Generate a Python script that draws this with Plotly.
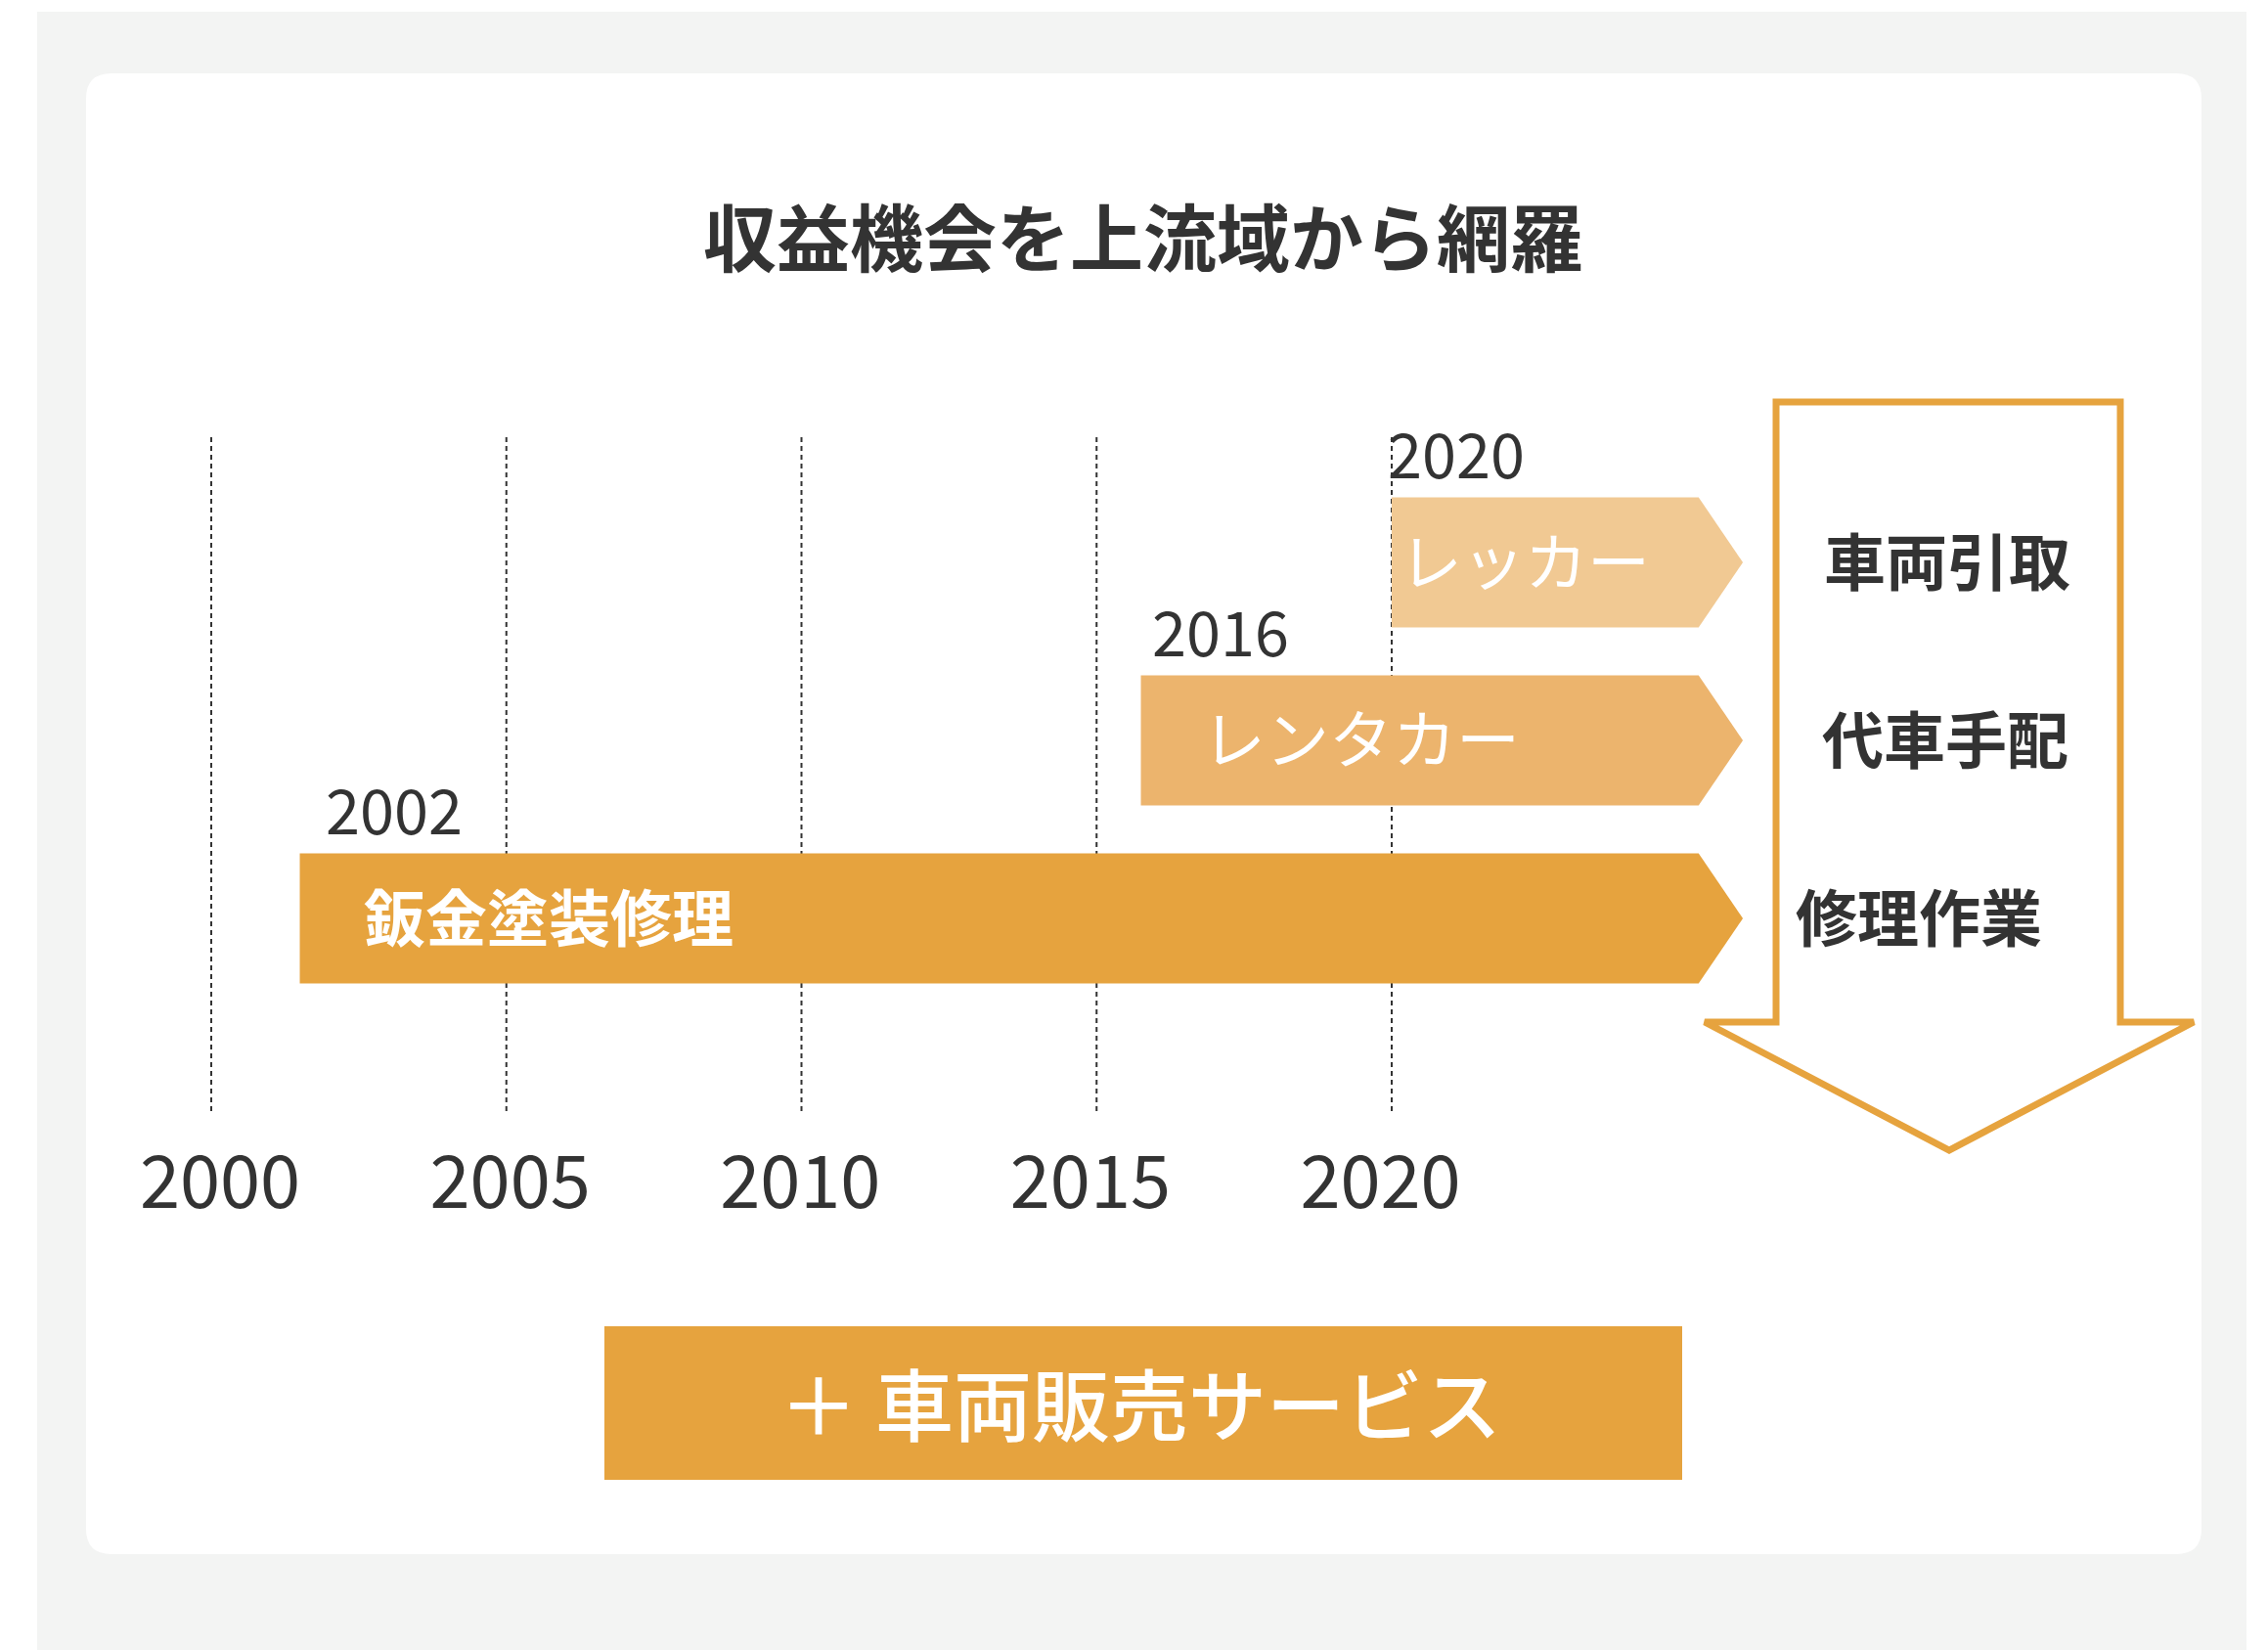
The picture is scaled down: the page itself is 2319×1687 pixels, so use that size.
import plotly.graph_objects as go

W, H = 2319, 1687

# ---------------- data ----------------
title_text = "収益機会を上流域から網羅"
services = ["鈑金塗装修理", "レンタカー", "レッカー"]
launch_years = [2002, 2016, 2020]
bar_start = [2001.5, 2015.75, 2020.0]
bar_end = [2025.2, 2025.2, 2025.2]
bar_tip = [2025.95, 2025.95, 2025.95]
flow_labels = ["修理作業", "代車手配", "車両引取"]
tick_years = [2000, 2005, 2010, 2015, 2020]
tick_labels = ["2000", "2005", "2010", "2015", "2020"]
bottom_text = "＋ 車両販売サービス"

# ---------------- styles ----------------
FONT = "Noto Sans CJK JP, Noto Sans, sans-serif"
DARK = "#333333"
ORANGE = "#E6A33E"
bar_colors = ["#E6A33E", "#ECB46D", "#F1C993"]
label_pad = [1.05, 1.0, 0.1]
label_size = [63, 65, 64]
label_weight = [700, 400, 400]
flow_label_px = [1962, 1989, 1991]

PX_PER_YEAR = 60.35
X2000_PX = 216
x_lo = 2000 - X2000_PX / PX_PER_YEAR
x_hi = x_lo + W / PX_PER_YEAR

ROW_Y = [939, 757, 575]      # vertical centre of each row (px from top)
BAR_HALF = 66.5
GRID_TOP, GRID_BOTTOM = 447, 1139
TICK_Y = 1216
CJK_SHIFT = -5               # text nudge for CJK labels (px)


def px(x):
    return x / W


def py(y):
    return 1 - y / H


fig = go.Figure()

# dashed year guide lines
for yr in tick_years:
    fig.add_trace(go.Scatter(
        x=[yr, yr], y=[GRID_TOP, GRID_BOTTOM], mode="lines",
        line=dict(color=DARK, width=2, dash="5px,4px"),
        hoverinfo="skip", showlegend=False))

# year tick labels (slightly tighter spacing than the guides, as in the original)
fig.add_trace(go.Scatter(
    x=[2000.15 + (y - 2000) * 0.983 for y in tick_years], y=[TICK_Y] * len(tick_years),
    mode="text", text=tick_labels, textposition="middle center",
    textfont=dict(family=FONT, size=74, color=DARK),
    hoverinfo="skip", showlegend=False))

# service arrows (bars with pointed ends)
for i, name in enumerate(services):
    cy = ROW_Y[i]
    top, bot = cy - BAR_HALF, cy + BAR_HALF
    xs = [bar_start[i], bar_end[i], bar_tip[i], bar_end[i], bar_start[i], bar_start[i]]
    ys = [top, top, cy, bot, bot, top]
    fig.add_trace(go.Scatter(
        x=xs, y=ys, mode="lines", fill="toself", fillcolor=bar_colors[i],
        line=dict(width=0, color=bar_colors[i]), hoverinfo="skip", showlegend=False))
    # service label
    fig.add_annotation(
        x=bar_start[i] + label_pad[i], y=cy + CJK_SHIFT, xref="x", yref="y",
        text=name, showarrow=False, xanchor="left", yanchor="middle",
        font=dict(family=FONT, size=label_size[i], color="white", weight=label_weight[i]))
    # launch year label
    fig.add_annotation(
        x=launch_years[i] - 0.1, y=top - 47, xref="x", yref="y",
        text=str(launch_years[i]), showarrow=False, xanchor="left", yanchor="middle",
        font=dict(family=FONT, size=63, color=DARK))
    # flow label in the big arrow
    fig.add_annotation(
        x=px(flow_label_px[i]), y=cy + CJK_SHIFT, xref="paper", yref="y",
        text=flow_labels[i], showarrow=False, xanchor="center", yanchor="middle",
        font=dict(family=FONT, size=63, color=DARK, weight=700))

# title
fig.add_annotation(
    x=px(1169), y=py(240), xref="paper", yref="paper", text=title_text,
    showarrow=False, xanchor="center", yanchor="middle",
    font=dict(family=FONT, size=75, color=DARK, weight=700))

# bottom box text
fig.add_annotation(
    x=px(1166), y=py(1432), xref="paper", yref="paper", text=bottom_text,
    showarrow=False, xanchor="center", yanchor="middle",
    font=dict(family=FONT, size=80, color="white", weight=500))

shapes = []
# grey outer background
shapes.append(dict(type="rect", xref="paper", yref="paper",
                   x0=px(38), x1=px(2297), y0=0, y1=py(12),
                   fillcolor="#F3F4F3", line=dict(width=0), layer="below"))


# white rounded panel
def rounded(x0, y0, x1, y1, r):
    pts = [
        f"M{px(x0 + r)},{py(y0)}", f"L{px(x1 - r)},{py(y0)}",
        f"Q{px(x1)},{py(y0)} {px(x1)},{py(y0 + r)}", f"L{px(x1)},{py(y1 - r)}",
        f"Q{px(x1)},{py(y1)} {px(x1 - r)},{py(y1)}", f"L{px(x0 + r)},{py(y1)}",
        f"Q{px(x0)},{py(y1)} {px(x0)},{py(y1 - r)}", f"L{px(x0)},{py(y0 + r)}",
        f"Q{px(x0)},{py(y0)} {px(x0 + r)},{py(y0)}", "Z"]
    return " ".join(pts)


shapes.append(dict(type="path", xref="paper", yref="paper",
                   path=rounded(88, 75, 2251, 1589, 26),
                   fillcolor="white", line=dict(width=0), layer="below"))

# big down arrow outline
arrow_pts = [(1816, 411), (2168, 411), (2168, 1045), (2243, 1045),
             (1993, 1176), (1743, 1045), (1816, 1045)]
apath = "M" + " L".join(f"{px(a)},{py(b)}" for a, b in arrow_pts) + " Z"
shapes.append(dict(type="path", xref="paper", yref="paper", path=apath,
                   fillcolor="rgba(0,0,0,0)", line=dict(color=ORANGE, width=7),
                   layer="below"))

# bottom box
shapes.append(dict(type="rect", xref="paper", yref="paper",
                   x0=px(618), x1=px(1720), y0=py(1513), y1=py(1356),
                   fillcolor=ORANGE, line=dict(width=0), layer="below"))

fig.update_layout(
    width=W, height=H, autosize=False,
    margin=dict(l=0, r=0, t=0, b=0, pad=0),
    paper_bgcolor="white", plot_bgcolor="rgba(0,0,0,0)",
    shapes=shapes, showlegend=False,
    xaxis=dict(range=[x_lo, x_hi], visible=False, showgrid=False, zeroline=False, fixedrange=True),
    yaxis=dict(range=[H, 0], visible=False, showgrid=False, zeroline=False, fixedrange=True),
    font=dict(family=FONT),
)

fig.write_html("out.html", config={"displayModeBar": False},
               post_script="document.body.style.margin='0';document.body.style.overflow='hidden';")
